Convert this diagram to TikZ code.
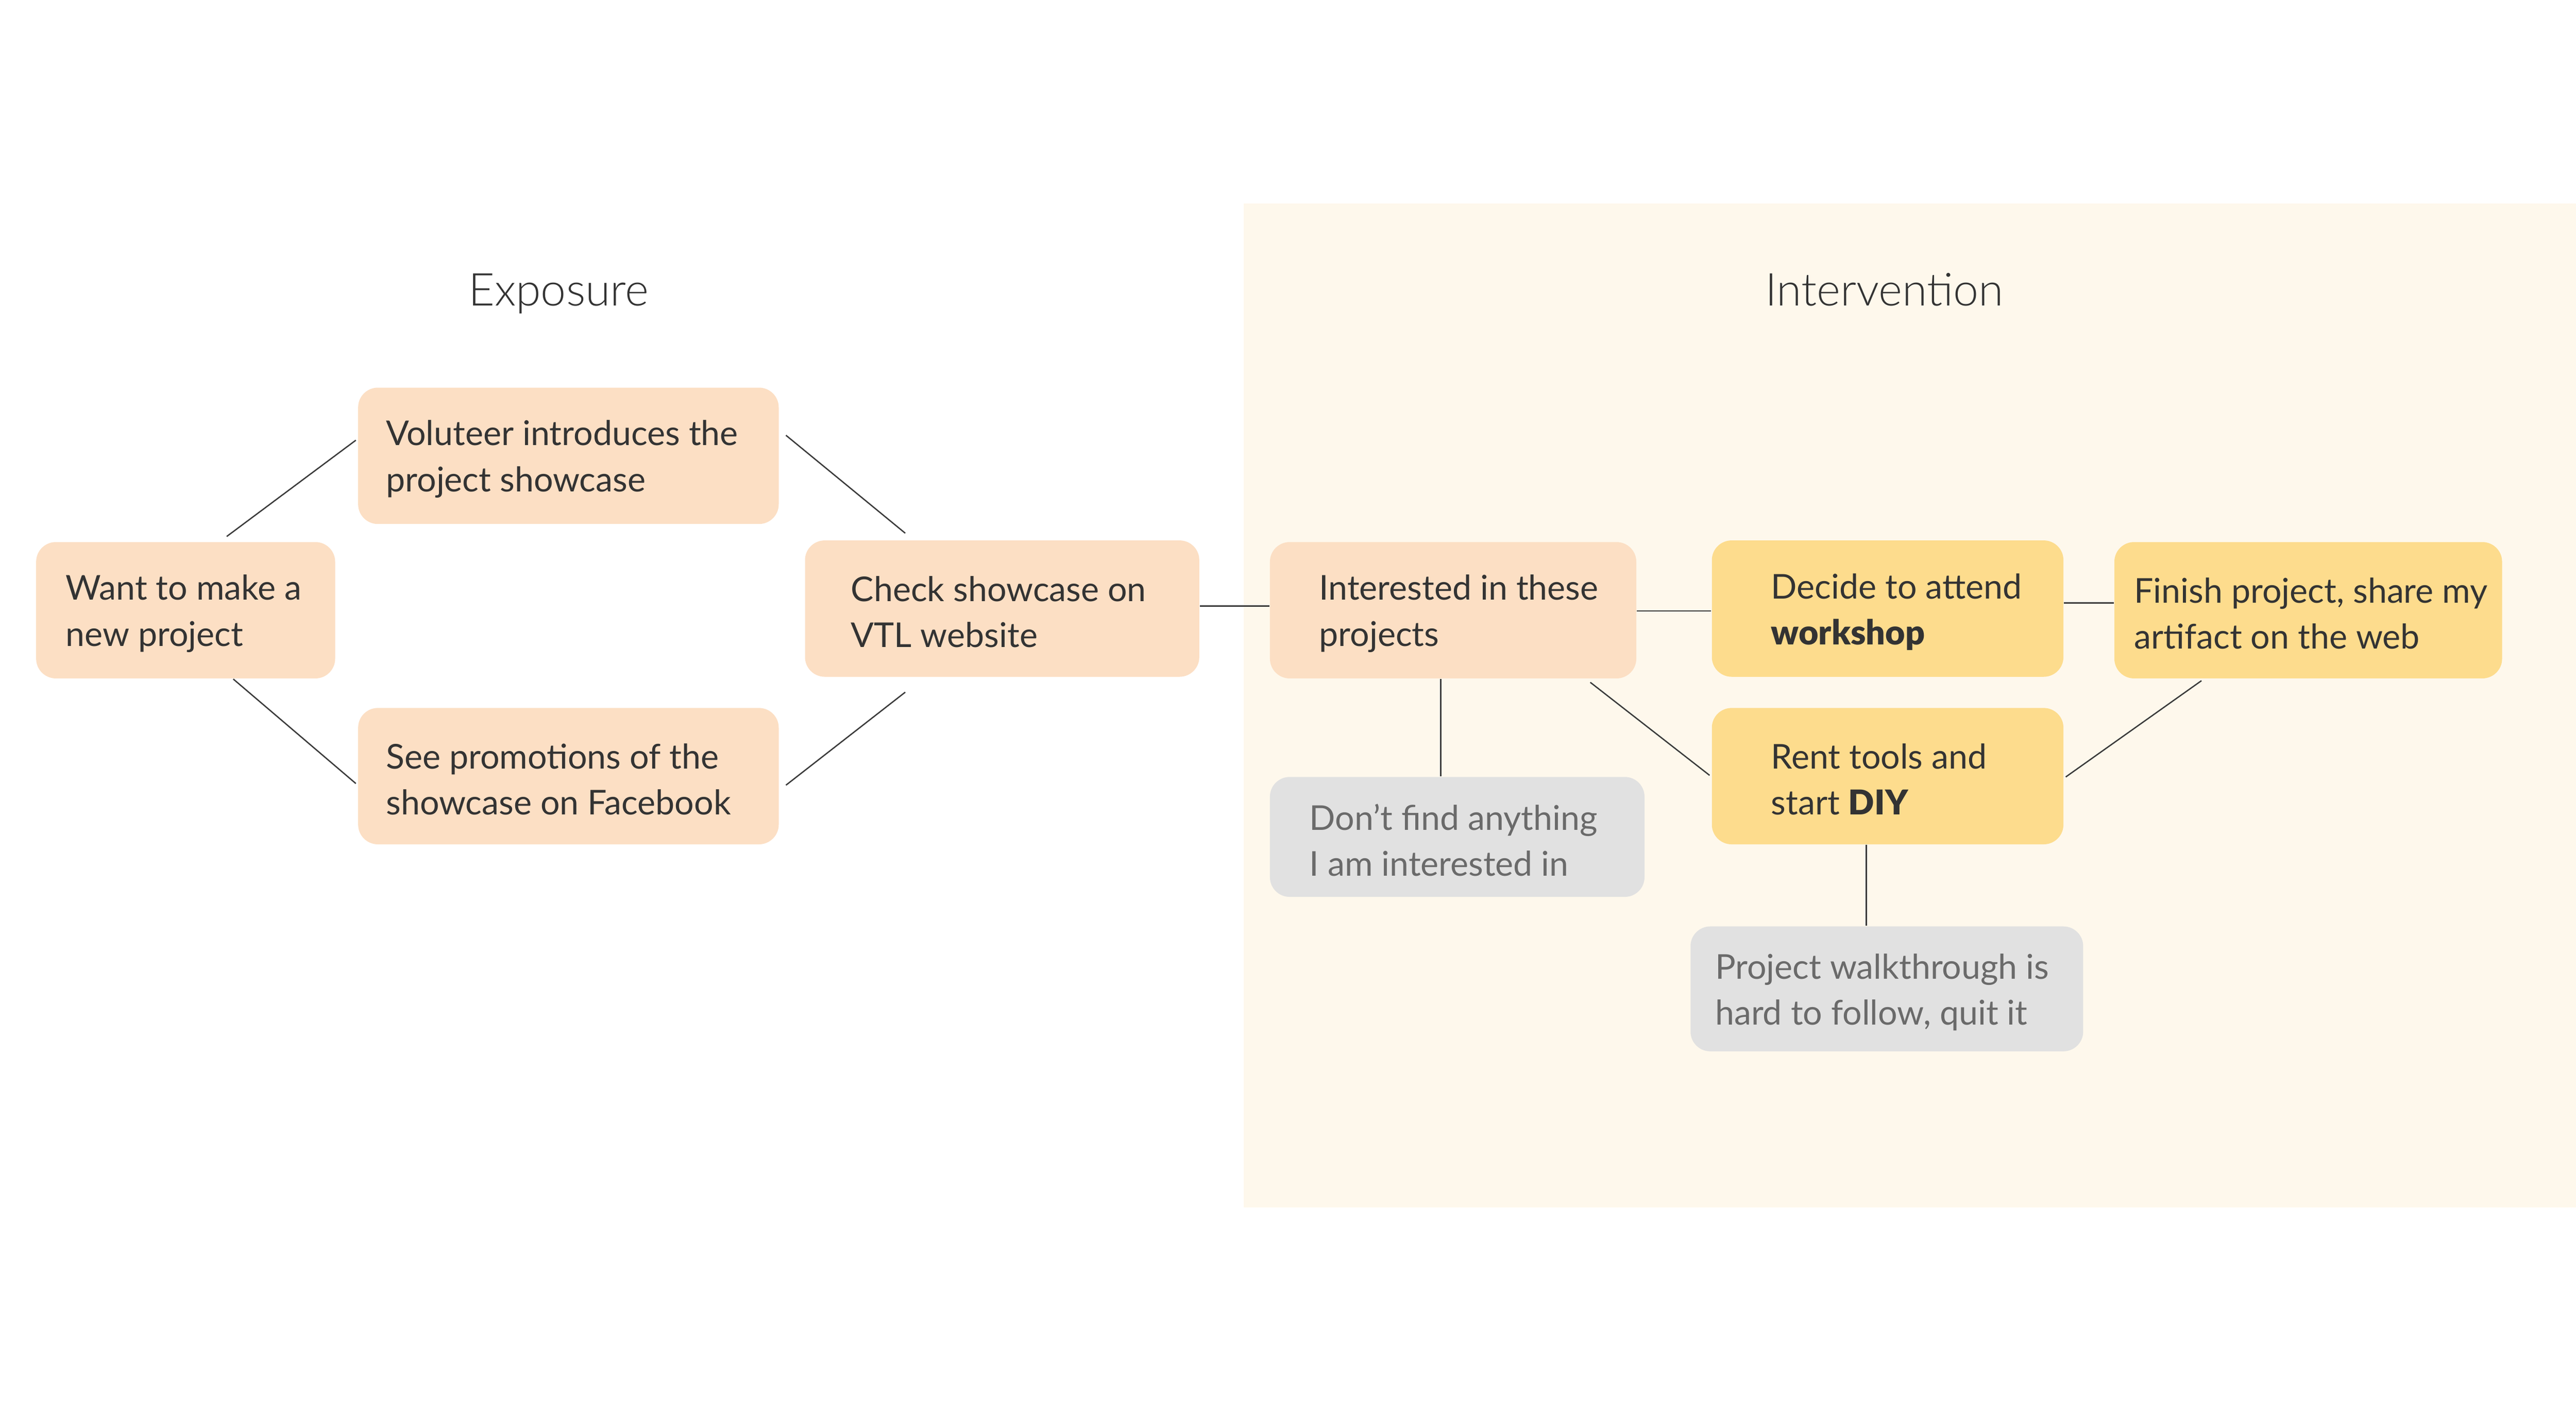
\documentclass[tikz,border=0pt]{standalone}
\usepackage{fontspec}
\setmainfont{Lato}
\newfontfamily\lightfont{Lato Light}
\newfontfamily\heavyfont{Lato Black}
\usetikzlibrary{calc}
\definecolor{peach}{HTML}{FCDFC4}
\definecolor{gold}{HTML}{FDDC8D}
\definecolor{grayfill}{HTML}{E1E1E1}
\definecolor{panelbg}{HTML}{FEF8EC}
\definecolor{ink}{HTML}{333333}
\definecolor{grayink}{HTML}{6A6A6A}
\definecolor{wire}{HTML}{3A3A3A}
\tikzset{
  boxbase/.style={draw=none, rounded corners=6pt, inner sep=0pt},
  peachbox/.style={boxbase, fill=peach},
  goldbox/.style={boxbase, fill=gold},
  graybox/.style={boxbase, fill=grayfill},
  txt/.style={inner sep=0pt, align=left, text=ink, font=\fontsize{10.4pt}{14pt}\selectfont},
  graytxt/.style={txt, text=grayink},
  title/.style={inner sep=0pt, anchor=base, text=ink, font=\lightfont\fontsize{13.8pt}{16pt}\selectfont},
  wireline/.style={draw=wire, line width=0.4pt}
}
\newcommand\flowbox[9]{%
  \node[#6, minimum width={(#4-#2)*0.5pt}, minimum height={(#5-#3)*0.5pt}] (#1) at ({(#2+#4)/2},{(#3+#5)/2}) {};
  \node[#9, anchor=west] (#1t) at ([xshift={#7*0.5pt}, yshift=-1pt]#1.west) {#8};
}
\begin{document}
\begin{tikzpicture}[x=0.5pt,y=-0.5pt]
\useasboundingbox (0,0) rectangle (1568,860);
\fill[white] (0,0) rectangle (1568,860);
\fill[panelbg] (757,124) rectangle (1568,735);

\node[title] (exposure) at (340,186) {Exposure};
\node[title] (intervention) at (1147,186) {Intervention};

\flowbox{A}{22}{330}{204}{413}{peachbox}{18}{Want to make a\\new project}{txt}
\flowbox{B}{218}{236}{474}{319}{peachbox}{17}{Voluteer introduces the\\project showcase}{txt}
\flowbox{C}{218}{431}{474}{514}{peachbox}{17}{See promotions of the\\showcase on Facebook}{txt}
\flowbox{D}{490}{329}{730}{412}{peachbox}{28}{Check showcase on\\VTL website}{txt}
\flowbox{E}{773}{330}{996}{413}{peachbox}{30}{Interested in these\\projects}{txt}
\flowbox{F}{1042}{329}{1256}{412}{goldbox}{36}{Decide to attend\\{\heavyfont workshop}}{txt}
\flowbox{G}{1287}{330}{1523}{413}{goldbox}{12}{Finish project, share my\\artifact on the web}{txt}
\flowbox{H}{1042}{431}{1256}{514}{goldbox}{36}{Rent tools and\\start {\heavyfont DIY}}{txt}
\flowbox{I}{773}{473}{1001}{546}{graybox}{24}{Don’t find anything\\I am interested in}{graytxt}
\flowbox{J}{1029}{564}{1268}{640}{graybox}{15}{Project walkthrough is\\hard to follow, quit it}{graytxt}

\draw[wireline] ([shift={(25,-3)}]A.north) -- ([shift={(-1,-9.5)}]B.west);
\draw[wireline] ([shift={(29,0)}]A.south) -- ([shift={(-1,4.5)}]C.west);
\draw[wireline] ([shift={(4,-12.5)}]B.east) -- ([shift={(-59,-4)}]D.north);
\draw[wireline] ([shift={(4,5.5)}]C.east) -- ([shift={(-59,9)}]D.south);
\draw[wireline] ([shift={(0,-1.5)}]D.east) -- ([shift={(0,-2.5)}]E.west);
\draw[wireline] ([shift={(0,0.5)}]E.east) -- ([shift={(0,1.5)}]F.west);
\draw[wireline] ([shift={(0,-3.5)}]F.east) -- ([shift={(0,-4.5)}]G.west);
\draw[wireline] ([shift={(83.5,2)}]E.south) -- ([shift={(-1,-0.5)}]H.west);
\draw[wireline] ([shift={(1,0.5)}]H.east) -- ([shift={(-65,1)}]G.south);
\draw[wireline] ([shift={(-7.5,0)}]E.south) -- ([shift={(-10,0)}]I.north);
\draw[wireline] ([shift={(-13,0)}]H.south) -- ([shift={(-12.5,0)}]J.north);
\end{tikzpicture}
\end{document}
